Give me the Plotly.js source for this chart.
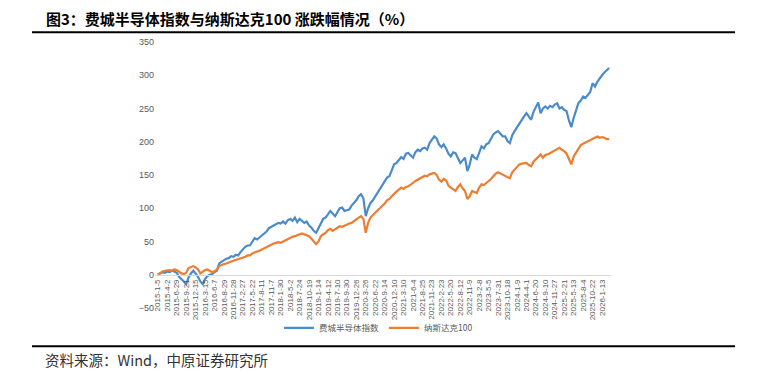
<!DOCTYPE html>
<html>
<head>
<meta charset="utf-8">
<script src="https://cdn.plot.ly/plotly-3.0.1.min.js"></script>
<style>
html,body{margin:0;padding:0;background:#fff;}
#chart{width:762px;height:374px;}
</style>
</head>
<body>
<div id="chart"></div>
<script>
// Tick labels (category axis, one label every 4 samples)
const tickLabels = ["2015-1-5","2015-4-2","2015-6-29","2015-9-21","2015-12-15","2016-3-15","2016-6-7","2016-8-29","2016-11-28","2017-2-27","2017-5-22","2017-8-11","2017-11-7","2018-1-30","2018-5-2","2018-7-24","2018-10-19","2019-1-14","2019-4-12","2019-7-10","2019-9-30","2019-12-26","2020-3-26","2020-6-22","2020-9-14","2020-12-10","2021-3-10","2021-6-4","2021-8-25","2021-11-23","2022-2-23","2022-5-20","2022-8-12","2022-11-9","2023-2-8","2023-5-5","2023-7-31","2023-10-18","2024-1-9","2024-4-1","2024-6-20","2024-9-10","2024-11-27","2025-2-21","2025-5-13","2025-8-4","2025-10-22","2026-1-13"];

// 费城半导体指数 涨跌幅 (%), sampled 4 points per label interval
const sox = [0,2,4,3,5,4,6,5,3,-3,-6,-10,-14,-4,2,6,2,-3,-10,-14,
-6,-2,0,1,4,6,17,20,22,24,25,28,27,30,29,34,38,42,44,44,
50,55,53,56,58,62,65,70,72,74,76,78,77,80,77,82,84,81,86,79,
84,81,78,80,74,71,66,63,70,78,84,86,92,96,92,88,94,100,101,96,
97,98,104,108,112,118,121,115,88,100,108,112,118,124,130,134,142,146,148,158,
166,168,172,177,174,182,183,179,176,184,188,186,190,191,188,198,203,208,205,196,
192,196,190,182,178,184,183,175,168,172,176,156,166,181,176,174,185,193,190,196,
198,204,211,214,216,212,208,208,201,198,210,216,222,228,232,238,243,238,233,245,
251,259,243,250,253,250,254,252,256,258,250,252,248,246,232,222,236,248,258,262,
268,266,271,275,288,283,290,296,300,304,307,311];

// 纳斯达克100 涨跌幅 (%)
const ndx = [0,3,5,6,7,7,6,8,7,4,2,1,3,10,12,13,11,8,2,5,
7,8,6,4,5,8,13,15,16,17,19,20,21,22,24,24,26,27,29,29,
32,34,35,36,38,39,41,44,46,47,48,49,48,50,52,54,55,57,58,60,
61,62,61,60,58,54,50,46,50,58,61,63,67,69,66,68,71,73,72,74,
75,77,78,81,83,86,88,84,63,78,86,90,94,97,100,103,107,112,114,118,
122,125,128,131,129,132,133,135,138,141,143,145,146,149,148,151,152,153,150,143,
140,144,142,134,131,128,126,132,136,130,126,114,118,126,125,123,131,136,135,138,
140,144,148,152,154,152,150,149,146,145,154,158,163,166,167,168,168,165,163,170,
174,178,181,176,180,181,183,186,187,189,191,188,186,182,174,166,178,184,190,195,
197,199,201,202,205,206,208,206,207,206,204,204];

const seriesNames = ["费城半导体指数","纳斯达克100"];

const xIdx = sox.map((_, i) => i);
const tickVals = tickLabels.map((_, i) => i * 4);

// plot area in pixels
const W = 762, H = 374;
const L = 155, R = 611, T = 41.7, B = 307.7;
const px = x => (x - L) / (R - L);
const py = y => (B - y) / (B - T);

const traces = [
  {x: xIdx, y: sox, name: seriesNames[0], type: 'scatter', mode: 'lines',
   line: {color: '#4a8ccb', width: 2.2}},
  {x: xIdx, y: ndx, name: seriesNames[1], type: 'scatter', mode: 'lines',
   line: {color: '#ed7d31', width: 2.2}}
];

const layout = {
  width: W, height: H,
  margin: {l: L, r: W - R, t: T, b: H - B, pad: 0},
  paper_bgcolor: '#fff', plot_bgcolor: '#fff',
  font: {family: 'Liberation Sans, Arial, sans-serif', color: '#595959', size: 9},
  showlegend: true,
  legend: {orientation: 'h', x: 0.49, xanchor: 'center', y: py(327.5), yanchor: 'middle',
    bgcolor: 'rgba(0,0,0,0)',
    font: {family: 'Noto Sans CJK SC, sans-serif', size: 8.5, color: '#595959'},
    itemwidth: 30, tracegroupgap: 0},
  xaxis: {
    type: 'linear', range: [-1.2, 191.8],
    anchor: 'free', position: 50 / 400,
    showline: true, linecolor: '#d9d9d9', linewidth: 1.5,
    showgrid: false, zeroline: false, ticks: '',
    tickmode: 'array', tickvals: tickVals, ticktext: tickLabels,
    tickangle: -90, tickfont: {size: 8, color: '#595959'}
  },
  yaxis: {
    range: [-50, 350], dtick: 50, tick0: 0,
    showline: false, showgrid: false, zeroline: false, ticks: '',
    tickfont: {size: 9, color: '#595959'}
  },
  shapes: [
    {type: 'line', xref: 'paper', yref: 'paper', x0: px(32), x1: px(735), y0: py(32), y1: py(32),
     line: {color: '#000', width: 2}},
    {type: 'line', xref: 'paper', yref: 'paper', x0: px(32), x1: px(735), y0: py(346), y1: py(346),
     line: {color: '#000', width: 2}}
  ],
  annotations: [
    {xref: 'paper', yref: 'paper', x: px(44), y: py(18), xanchor: 'left', yanchor: 'middle',
     showarrow: false, text: '<b>图3：费城半导体指数与纳斯达克100 涨跌幅情况（%）</b>',
     font: {family: 'Noto Sans CJK SC, sans-serif', size: 15, color: '#000'}},
    {xref: 'paper', yref: 'paper', x: px(43), y: py(359), xanchor: 'left', yanchor: 'middle',
     showarrow: false, text: '资料来源：Wind，中原证券研究所',
     font: {family: 'Noto Sans CJK SC, sans-serif', size: 14.5, color: '#333'}}
  ]
};

Plotly.newPlot('chart', traces, layout, {displayModeBar: false, staticPlot: true});
</script>
</body>
</html>
